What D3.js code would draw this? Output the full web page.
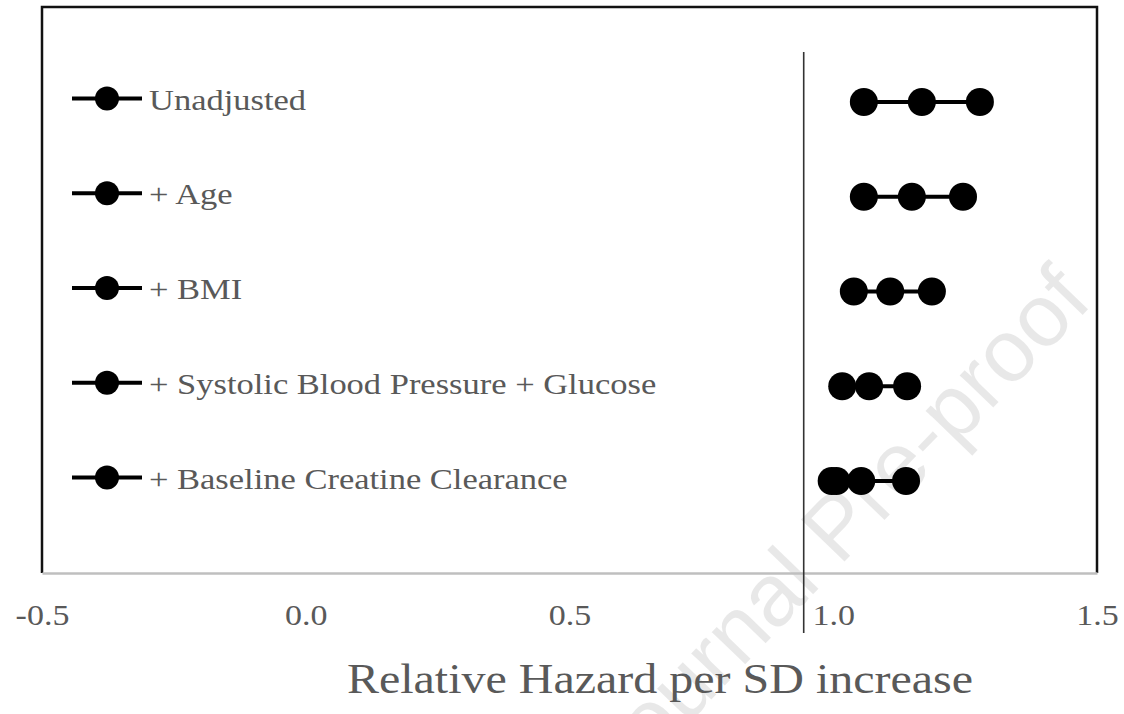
<!DOCTYPE html>
<html>
<head>
<meta charset="utf-8">
<script src="https://cdn.jsdelivr.net/npm/d3@7"></script>
<style>
  html, body { margin: 0; padding: 0; background: #fff; }
  svg { display: block; }
</style>
</head>
<body>
<svg id="chart" width="1124" height="714"></svg>
<script>
// ---- data ----
const categories = [
  "Unadjusted",
  "+ Age",
  "+ BMI",
  "+ Systolic Blood Pressure + Glucose",
  "+ Baseline Creatine Clearance"
];
const rowValues = [
  [1.058, 1.168, 1.278],
  [1.058, 1.149, 1.246],
  [1.039, 1.108, 1.187],
  [1.017, 1.068, 1.140],
  [0.997, 1.006, 1.053, 1.138]
];
const tickValues = [-0.5, 0.0, 0.5, 1.0, 1.5];
const tickLabels = ["-0.5", "0.0", "0.5", "1.0", "1.5"];
const referenceValue = 0.944;
const axisTitle = "Relative Hazard per SD increase";
const watermark = "Journal Pre-proof";

// ---- layout ----
const plot = { left: 42, right: 1097, top: 7, bottom: 573 };
const textColor = "#595959";
const serif = "'Liberation Serif', 'Times New Roman', serif";
const sy = 0.86; // vertical squeeze of glyphs seen in the reference

const svg = d3.select("#chart");

const x = d3.scaleLinear().domain([-0.5, 1.5]).range([plot.left, plot.right]);
const y = d3.scalePoint().domain(categories).range([102, 481]);

// watermark (faint, behind)
svg.append("text")
  .attr("transform", "translate(622,792) rotate(-46)")
  .attr("font-family", "'Liberation Sans', Arial, sans-serif")
  .attr("font-size", 88)
  .attr("fill", "#000")
  .attr("fill-opacity", 0.09)
  .text(watermark);

// frame (left, top, right)
svg.append("path")
  .attr("d", `M${plot.left},${plot.bottom} V${plot.top} H${plot.right} V${plot.bottom}`)
  .attr("fill", "none")
  .attr("stroke", "#111")
  .attr("stroke-width", 2.5);

// x axis
const axis = d3.axisBottom(x)
  .tickValues(tickValues)
  .tickFormat((d, i) => tickLabels[i])
  .tickSize(0)
  .tickPadding(0);
const gx = svg.append("g")
  .attr("transform", `translate(0,${plot.bottom})`)
  .call(axis);
gx.select(".domain")
  .attr("stroke", "#bfbfbf")
  .attr("stroke-width", 2.5);
gx.selectAll(".tick text")
  .attr("font-family", serif)
  .attr("font-size", 34)
  .attr("fill", textColor)
  .attr("dy", 0)
  .attr("y", 52 / sy)
  .attr("transform", `scale(1,${sy})`);

// reference line
svg.append("line")
  .attr("x1", x(referenceValue)).attr("x2", x(referenceValue))
  .attr("y1", 52).attr("y2", 633)
  .attr("stroke", "#333")
  .attr("stroke-width", 1.6);

// rows of points
const rows = svg.append("g").selectAll("g")
  .data(categories.map((c, i) => ({ cat: c, vals: rowValues[i] })))
  .join("g");

rows.append("line")
  .attr("x1", d => x(d3.min(d.vals)))
  .attr("x2", d => x(d3.max(d.vals)))
  .attr("y1", d => y(d.cat))
  .attr("y2", d => y(d.cat))
  .attr("stroke", "#000")
  .attr("stroke-width", 4);

rows.selectAll("circle")
  .data(d => d.vals.map(v => ({ v, cat: d.cat })))
  .join("circle")
  .attr("cx", d => x(d.v))
  .attr("cy", d => y(d.cat))
  .attr("r", 14)
  .attr("fill", "#000");

// legend
const legend = svg.append("g").selectAll("g")
  .data(categories)
  .join("g")
  .attr("transform", d => `translate(0,${y(d) - 3.5})`);

legend.append("line")
  .attr("x1", 72).attr("x2", 142)
  .attr("y1", 0).attr("y2", 0)
  .attr("stroke", "#000")
  .attr("stroke-width", 4);
legend.append("circle")
  .attr("cx", 107).attr("cy", 0).attr("r", 12)
  .attr("fill", "#000");
legend.append("text")
  .attr("transform", `translate(149,11) scale(1,${sy})`)
  .attr("font-family", serif)
  .attr("font-size", 34.5)
  .attr("fill", textColor)
  .text(d => d);

// axis title
svg.append("text")
  .attr("transform", `translate(660,693) scale(1,${sy})`)
  .attr("text-anchor", "middle")
  .attr("font-family", serif)
  .attr("font-size", 48)
  .attr("fill", textColor)
  .text(axisTitle);
</script>
</body>
</html>
